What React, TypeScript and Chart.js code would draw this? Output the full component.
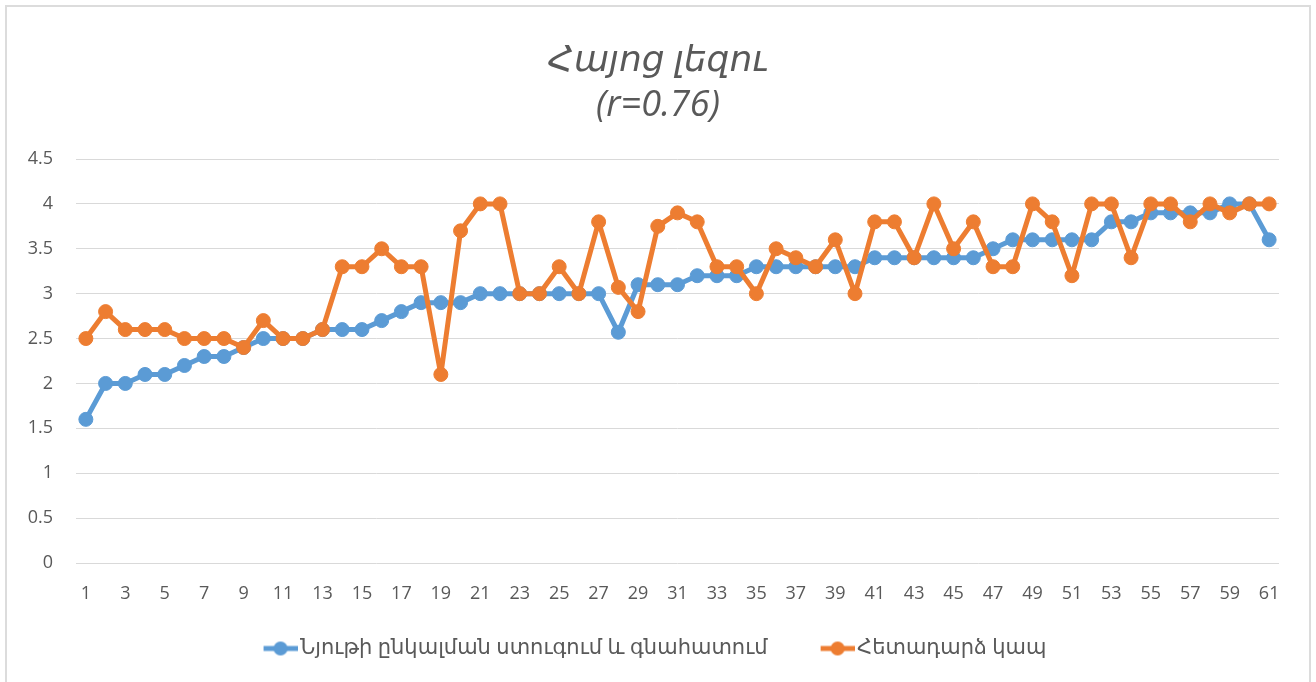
import React, { useEffect, useRef } from "react";
import { Chart, registerables } from "chart.js";

Chart.register(...registerables);

const categories: string[] = Array.from({ length: 61 }, (_, i) => String(i + 1));

const seriesPerception: number[] = [
  1.6, 2.0, 2.0, 2.1, 2.1, 2.2, 2.3, 2.3, 2.4, 2.5,
  2.5, 2.5, 2.6, 2.6, 2.6, 2.7, 2.8, 2.9, 2.9, 2.9,
  3.0, 3.0, 3.0, 3.0, 3.0, 3.0, 3.0, 2.57, 3.1, 3.1,
  3.1, 3.2, 3.2, 3.2, 3.3, 3.3, 3.3, 3.3, 3.3, 3.3,
  3.4, 3.4, 3.4, 3.4, 3.4, 3.4, 3.5, 3.6, 3.6, 3.6,
  3.6, 3.6, 3.8, 3.8, 3.9, 3.9, 3.9, 3.9, 4.0, 4.0,
  3.6,
];

const seriesFeedback: number[] = [
  2.5, 2.8, 2.6, 2.6, 2.6, 2.5, 2.5, 2.5, 2.4, 2.7,
  2.5, 2.5, 2.6, 3.3, 3.3, 3.5, 3.3, 3.3, 2.1, 3.7,
  4.0, 4.0, 3.0, 3.0, 3.3, 3.0, 3.8, 3.07, 2.8, 3.75,
  3.9, 3.8, 3.3, 3.3, 3.0, 3.5, 3.4, 3.3, 3.6, 3.0,
  3.8, 3.8, 3.4, 4.0, 3.5, 3.8, 3.3, 3.3, 4.0, 3.8,
  3.2, 4.0, 4.0, 3.4, 4.0, 4.0, 3.8, 4.0, 3.9, 4.0,
  4.0,
];

const seriesNames: string[] = [
  "Նյութի ընկալման ստուգում և գնահատում",
  "Հետադարձ կապ",
];

const titleLines: string[] = ["Հայոց լեզու", "(r=0.76)"];

const BLUE = "#5B9BD5";
const ORANGE = "#ED7D31";
const TEXT = "#595959";
const FONT = "'Open Sans', 'DejaVu Sans', sans-serif";

// legend icon: line with a round marker, placed in the right part of a wider transparent image
function legendIcon(color: string): HTMLCanvasElement {
  const c = document.createElement("canvas");
  c.width = 62;
  c.height = 16;
  const ctx = c.getContext("2d")!;
  ctx.strokeStyle = color;
  ctx.lineWidth = 5;
  ctx.beginPath();
  ctx.moveTo(28, 8);
  ctx.lineTo(62, 8);
  ctx.stroke();
  ctx.fillStyle = color;
  ctx.beginPath();
  ctx.arc(45, 8, 7, 0, Math.PI * 2);
  ctx.fill();
  return c;
}

const recenter = {
  id: "recenter",
  afterLayout(chart: any) {
    if (chart.titleBlock) chart.titleBlock.left = 30;
    if (chart.legend) chart.legend.left = 4;
  },
};

export default function App() {
  const ref = useRef<HTMLCanvasElement | null>(null);

  useEffect(() => {
    if (!ref.current) return;
    const icons = [legendIcon(BLUE), legendIcon(ORANGE)];
    const chart = new Chart(ref.current, {
      type: "line",
      data: {
        labels: categories,
        datasets: [
          {
            label: seriesNames[0],
            data: seriesPerception,
            borderColor: BLUE,
            backgroundColor: BLUE,
            pointBackgroundColor: BLUE,
            pointBorderColor: BLUE,
            borderWidth: 5,
            borderJoinStyle: "round",
            borderCapStyle: "round",
            pointRadius: 7,
            pointBorderWidth: 1,
            tension: 0,
            order: 1,
          },
          {
            label: seriesNames[1],
            data: seriesFeedback,
            borderColor: ORANGE,
            backgroundColor: ORANGE,
            pointBackgroundColor: ORANGE,
            pointBorderColor: ORANGE,
            borderWidth: 5,
            borderJoinStyle: "round",
            borderCapStyle: "round",
            pointRadius: 7,
            pointBorderWidth: 1,
            tension: 0,
            order: 0,
          },
        ],
      },
      plugins: [recenter],
      options: {
        animation: false,
        responsive: false,
        maintainAspectRatio: false,
        layout: { padding: { left: 0, right: 30, top: 0, bottom: 13 } },
        plugins: {
          tooltip: { enabled: false },
          title: {
            display: true,
            text: titleLines,
            color: TEXT,
            font: { family: FONT, size: 36, style: "italic", weight: "normal", lineHeight: 1.25 },
            padding: { top: 31, bottom: 31 },
          },
          legend: {
            display: true,
            position: "bottom",
            labels: {
              color: TEXT,
              font: { family: FONT, size: 21 },
              usePointStyle: true,
              pointStyleWidth: 46,
              padding: 33,
              sort: (a: any, b: any) => a.datasetIndex - b.datasetIndex,
              generateLabels: (ch: any) => {
                const items = Chart.defaults.plugins.legend.labels.generateLabels(ch);
                return items.map((it: any, i: number) => ({ ...it, pointStyle: icons[it.datasetIndex ?? i] }));
              },
            },
          },
        },
        scales: {
          x: {
            type: "category",
            offset: true,
            grid: { display: false, drawTicks: false },
            border: { display: false },
            ticks: {
              color: TEXT,
              font: { family: FONT, size: 18 },
              autoSkip: false,
              maxRotation: 0,
              minRotation: 0,
              padding: 20,
              callback: function (this: any, _v: any, i: number) {
                return i % 2 === 0 ? categories[i] : "";
              },
            },
            afterFit: (scale: any) => {
              scale.height = 42;
            },
          },
          y: {
            min: 0,
            max: 4.5,
            grid: { color: "#d9d9d9", lineWidth: 1, drawTicks: false },
            border: { display: false },
            ticks: {
              stepSize: 0.5,
              color: TEXT,
              font: { family: FONT, size: 18 },
              padding: 23,
              callback: (v: any) => String(Number(v)),
            },
            afterFit: (scale: any) => {
              scale.width = 69;
            },
          },
        },
      },
    });
    return () => chart.destroy();
  }, []);

  return (
    <div style={{ position: "fixed", left: 0, top: 0, width: 1316, height: 682, overflow: "hidden", background: "#fff" }}>
      <div
        style={{
          position: "absolute",
          left: 5,
          top: 5,
          width: 1306,
          height: 700,
          border: "2px solid #dcdcdc",
          boxSizing: "border-box",
          background: "#fff",
        }}
      />
      <canvas
        ref={ref}
        width={1302}
        height={675}
        style={{ position: "absolute", left: 7, top: 7, width: 1302, height: 675 }}
      />
    </div>
  );
}
